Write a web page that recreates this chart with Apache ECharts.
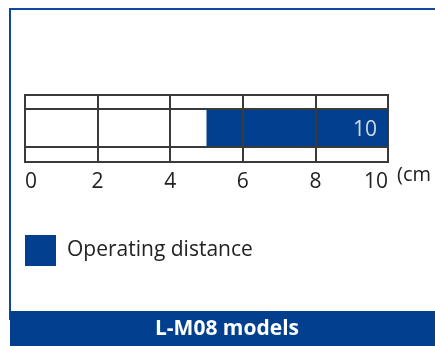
<!DOCTYPE html>
<html>
<head>
<meta charset="utf-8">
<script src="https://cdn.jsdelivr.net/npm/echarts@6/dist/echarts.min.js"></script>
<style>
  html, body { margin: 0; padding: 0; background: #fff; }
  #chart { width: 435px; height: 346px; }
</style>
</head>
<body>
<div id="chart"></div>
<script>
// Operating range of the L-M08 models, in cm
const seriesName = 'Operating distance';
const rangeStart = [5];
const rangeEnd = [10];
const axisTicks = [0, 2, 4, 6, 8, 10];
const axisUnit = '(cm';
const footerTitle = 'L-M08 models';

const BLUE = '#02408f';
const LINE = '#3a3a3a';
const FONT = '"Open Sans", "Noto Sans", sans-serif';

// band layout of the strip (y-axis units, bottom to top)
const BAND_LOW = 15, BAND_HIGH = 53, BAND_TOP = 67;

const chart = echarts.init(document.getElementById('chart'));
chart.setOption({
  animation: false,
  textStyle: { fontFamily: FONT },
  grid: {
    left: 25, right: 47, top: 95, height: 67,
    show: true, borderColor: LINE, borderWidth: 2, backgroundColor: 'transparent'
  },
  xAxis: {
    type: 'value',
    min: axisTicks[0], max: axisTicks[axisTicks.length - 1], interval: 2,
    axisLine: { show: true, lineStyle: { color: LINE, width: 2 } },
    axisTick: { show: false },
    splitLine: { show: true, lineStyle: { color: LINE, width: 2 } },
    axisLabel: {
      color: '#222', fontSize: 21, margin: 10,
      alignMinLabel: 'left', alignMaxLabel: 'right'
    },
    name: axisUnit,
    nameLocation: 'end',
    nameGap: 9,
    nameTextStyle: { color: '#222', fontSize: 20, verticalAlign: 'top', padding: [3, 0, 0, 0] }
  },
  yAxis: {
    type: 'value', min: 0, max: BAND_TOP, show: false,
    splitLine: { show: false }
  },
  legend: {
    left: 25, top: 235, padding: 0,
    itemWidth: 31, itemHeight: 31, icon: 'rect',
    textStyle: { fontSize: 21, color: '#222', padding: [0, 0, 0, 6] },
    data: [seriesName]
  },
  series: [
    {
      name: seriesName,
      type: 'custom',
      itemStyle: { color: BLUE },
      data: rangeStart.map((s, i) => [s, rangeEnd[i]]),
      renderItem: function (params, api) {
        const p0 = api.coord([api.value(0), BAND_HIGH]);
        const p1 = api.coord([api.value(1), BAND_LOW]);
        return {
          type: 'rect',
          shape: { x: p0[0], y: p0[1], width: p1[0] - p0[0], height: p1[1] - p0[1] },
          style: { fill: BLUE }
        };
      },
      encode: { x: [0, 1] },
      z: 1
    },
    {
      // band separators and vertical cell lines redrawn over the bar
      type: 'line',
      data: [],
      silent: true,
      markLine: {
        symbol: 'none', silent: true, label: { show: false },
        lineStyle: { color: LINE, width: 2, type: 'solid' },
        data: [{ yAxis: BAND_LOW }, { yAxis: BAND_HIGH }]
          .concat(axisTicks.slice(1, -1).map(t => ({ xAxis: t })))
      },
      z: 3
    },
    {
      // value label at the far end of the range
      type: 'scatter',
      symbolSize: 0,
      data: rangeEnd.map(v => [v, (BAND_LOW + BAND_HIGH) / 2]),
      label: {
        show: true, position: 'left', distance: 11, offset: [0, 2],
        formatter: p => String(p.value[0]),
        color: '#fff', fontSize: 21
      },
      silent: true,
      z: 4
    }
  ],
  graphic: [
    {
      type: 'rect', z: -1,
      shape: { x: 10, y: 9, width: 440, height: 310 },
      style: { fill: 'none', stroke: '#0d4a9c', lineWidth: 2 }
    },
    {
      type: 'rect', z: 10,
      shape: { x: 10, y: 311, width: 425, height: 35 },
      style: { fill: BLUE }
    },
    {
      type: 'text', z: 11,
      x: 227, y: 329,
      style: {
        text: footerTitle, fill: '#fff', fontSize: 21, fontWeight: 'bold',
        fontFamily: FONT, align: 'center', verticalAlign: 'middle'
      }
    }
  ]
});
</script>
</body>
</html>
